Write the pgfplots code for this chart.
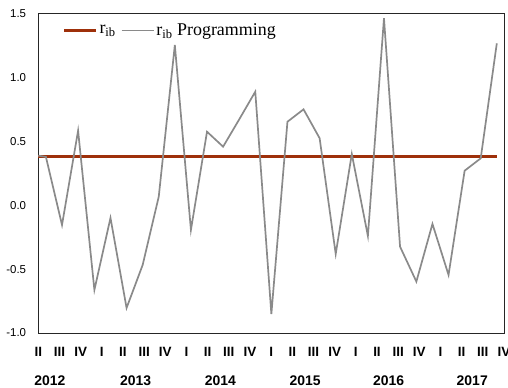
\documentclass[border=0pt]{standalone}
\usepackage{pgfplots}
\pgfplotsset{compat=1.18}
\usepackage{fontspec}
\setmainfont{Liberation Serif}
\setsansfont{Liberation Sans}

\definecolor{rib}{RGB}{158,48,10}
\definecolor{ribprog}{RGB}{138,138,138}

\begin{document}
\begin{tikzpicture}[yearlab/.style={font=\fontsize{14}{14}\sffamily\bfseries, anchor=base, inner sep=0pt, yshift=-52bp}]
\begin{axis}[
  at={(38.3bp,55bp)}, anchor=south west,
  scale only axis, width=465.7bp, height=319.7bp,
  xmin=0, xmax=22, ymin=-1, ymax=1.5,
  axis line style={line width=0.9bp, color=black!85},
  major tick length=0pt,
  xtick={0,...,22},
  xticklabels={II,III,IV,I,II,III,IV,I,II,III,IV,I,II,III,IV,I,II,III,IV,I,II,III,IV},
  xticklabel style={font=\fontsize{13.5}{14}\sffamily\bfseries, anchor=base, inner sep=0pt, yshift=-23bp},
  ytick={-1,-0.5,0,0.5,1,1.5},
  yticklabels={-1.0,-0.5,0.0,0.5,1.0,1.5},
  yticklabel style={font=\fontsize{11.5}{12}\sffamily, anchor=east, inner sep=0pt, xshift=-12bp},
  clip=false,
  legend columns=-1,
  legend style={draw=none, fill=none, at={(axis description cs:0.04,0.99)}, anchor=north west,
    xshift=3bp, yshift=-3bp,
    font=\fontsize{18}{18}\selectfont,
    /tikz/every even column/.append style={column sep=3bp}},
  legend image code/.code={\draw[#1] (0bp,0bp) -- (25bp,0bp); \path (25bp,0bp) -- (32bp,0bp);},
]
% policy rate held constant over the whole period
\addplot[rib, line width=2.4bp] coordinates {(0,0.38) (21.66,0.38)};
\addlegendentry{r\textsubscript{ib}}
% programmed rate
\addplot[ribprog, line width=1.7bp] coordinates {
  (0,0.387) (0.36,0.377) (1.12,-0.155) (1.88,0.582) (2.65,-0.663) (3.41,-0.100)
  (4.17,-0.804) (4.93,-0.468) (5.69,0.066) (6.45,1.252) (7.21,-0.194)
  (7.97,0.574) (8.73,0.457) (9.49,0.670) (10.25,0.887) (11.01,-0.851)
  (11.77,0.652) (12.53,0.749) (13.29,0.523) (14.05,-0.382) (14.81,0.400)
  (15.57,-0.241) (16.33,1.461) (17.09,-0.325) (17.86,-0.598) (18.62,-0.147)
  (19.38,-0.546) (20.14,0.269) (20.90,0.366) (21.66,1.265)
};
\addlegendentry{r\textsubscript{ib} Programming}
% year labels under the quarters
\node[yearlab] at (axis cs:0.55,-1) {2012};
\node[yearlab] at (axis cs:4.6,-1) {2013};
\node[yearlab] at (axis cs:8.6,-1) {2014};
\node[yearlab] at (axis cs:12.6,-1) {2015};
\node[yearlab] at (axis cs:16.55,-1) {2016};
\node[yearlab] at (axis cs:20.5,-1) {2017};
\end{axis}
\pgfresetboundingbox
\path[use as bounding box] (0,0) rectangle (508bp,388bp);
\end{tikzpicture}
\end{document}
